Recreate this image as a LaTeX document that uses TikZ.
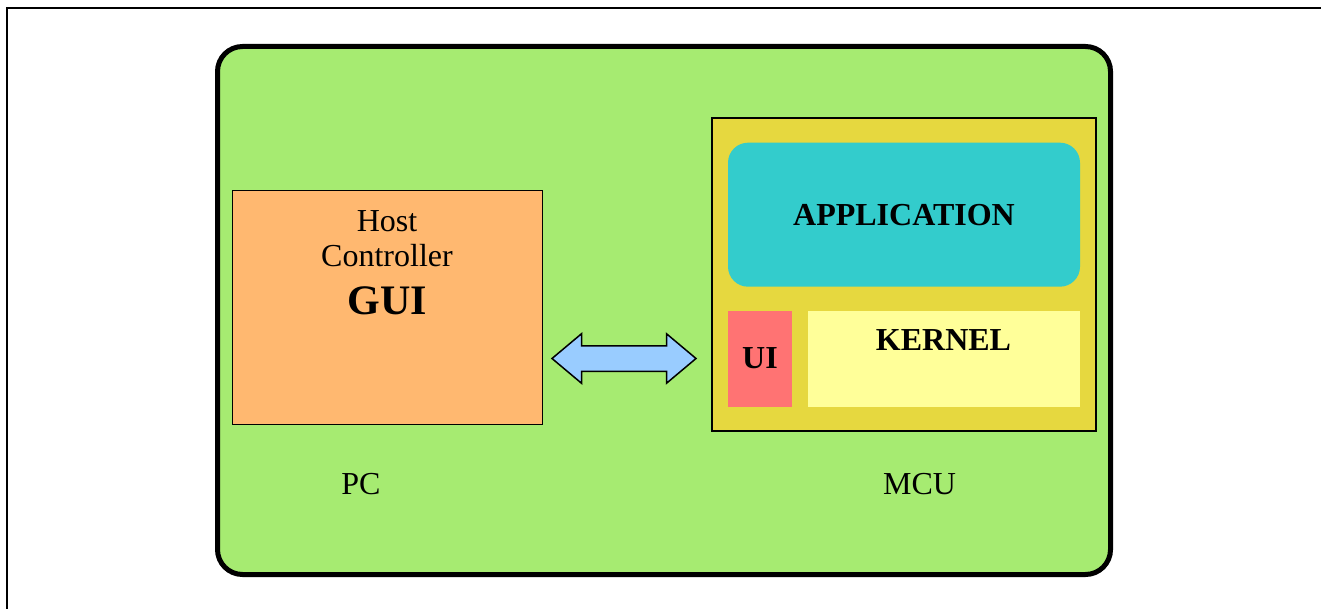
\documentclass[tikz,border=0pt]{standalone}
\usepackage{fontspec}
\setmainfont{Liberation Serif}
\usetikzlibrary{shapes.arrows}
\definecolor{pcgreen}{HTML}{A6EB71}
\definecolor{hostorange}{HTML}{FFB870}
\definecolor{mcuyellow}{HTML}{E6D83F}
\definecolor{appteal}{HTML}{33CCCC}
\definecolor{uired}{HTML}{FF7373}
\definecolor{kernelyellow}{HTML}{FFFF99}
\definecolor{arrowblue}{HTML}{99CCFF}
\tikzset{
  box/.style={inner sep=0pt, outer sep=0pt, anchor=north west},
  lbl/.style={inner sep=0pt, anchor=base, font=\fontsize{32}{38}\selectfont},
  blbl/.style={lbl, font=\fontsize{32}{38}\selectfont\bfseries},
}
\begin{document}
\begin{tikzpicture}[x=1pt, y=-1pt]
\useasboundingbox (0,0) rectangle (1321,609);
\fill[white] (0,0) rectangle (1321,609);
% frame
\draw[line width=1.6pt] (7,609) -- (7,8) -- (1321,8);
% outer green rounded box
\node[box, draw, line width=5pt, fill=pcgreen, rounded corners=25pt,
      minimum width=893pt, minimum height=528pt] (outer) at (217.5,46.5) {};
% host box
\node[box, draw, line width=1.5pt, fill=hostorange,
      minimum width=310pt, minimum height=234pt] (host) at (232.3,190.7) {};
\node[lbl] (hostt) at (387,231.7) {Host};
\node[lbl] (ctrl) at (387,266.7) {Controller};
\node[blbl, font=\fontsize{42}{48}\selectfont\bfseries] (gui) at (387.5,314) {GUI};
% MCU box
\node[box, draw, line width=2pt, fill=mcuyellow,
      minimum width=384.5pt, minimum height=312pt] (mcu) at (711.7,118.5) {};
\node[box, fill=appteal, rounded corners=20pt,
      minimum width=352pt, minimum height=144pt] (app) at (728,142.7) {};
\node[blbl] (appt) at (904,225.7) {APPLICATION};
\node[box, fill=uired, minimum width=64pt, minimum height=96pt] (ui) at (728,311) {};
\node[blbl] (uit) at (760,368.5) {UI};
\node[box, fill=kernelyellow, minimum width=272pt, minimum height=96pt] (kernel) at (808,311) {};
\node[blbl] (kernelt) at (943.5,350.5) {KERNEL};
% double arrow
\node[shape=double arrow, draw, line width=1.5pt, fill=arrowblue, inner sep=12pt,
      minimum height=144pt, double arrow head extend=12pt, double arrow tip angle=80,
      shape border rotate=0] (link) at (624,358.5) {};
% labels
\node[lbl] (pc) at (361,494.3) {PC};
\node[lbl] (mcut) at (919.5,494.3) {MCU};
\end{tikzpicture}
\end{document}
